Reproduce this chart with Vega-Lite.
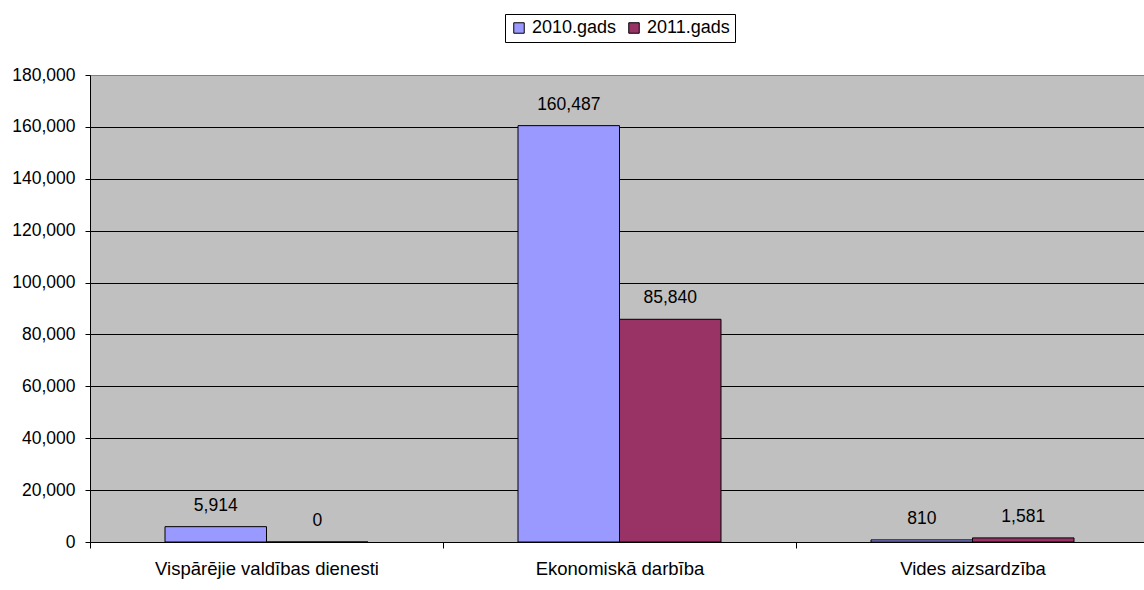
{
  "$schema": "https://vega.github.io/schema/vega-lite/v6.json",
  "autosize": {"type": "none"},
  "padding": {"left": 90, "top": 75, "right": 0, "bottom": 48},
  "width": 1054,
  "height": 467,
  "background": "white",
  "config": {
    "font": "Liberation Sans",
    "view": {"fill": "#C0C0C0", "stroke": "#808080", "strokeWidth": 1}
  },
  "data": {
    "values": [
      {"category": "Vispārējie valdības dienesti", "series": "2010.gads", "value": 5914},
      {"category": "Vispārējie valdības dienesti", "series": "2011.gads", "value": 0},
      {"category": "Ekonomiskā darbība", "series": "2010.gads", "value": 160487},
      {"category": "Ekonomiskā darbība", "series": "2011.gads", "value": 85840},
      {"category": "Vides aizsardzība", "series": "2010.gads", "value": 810},
      {"category": "Vides aizsardzība", "series": "2011.gads", "value": 1581}
    ]
  },
  "encoding": {
    "x": {
      "field": "category",
      "type": "nominal",
      "sort": null,
      "scale": {"range": [0, 1059], "paddingInner": 0.425, "paddingOuter": 0.2125},
      "axis": {
        "title": null,
        "labelAngle": 0,
        "labelFontSize": 18.5,
        "labelLimit": 0,
        "labelColor": "black",
        "labelPadding": 11,
        "labelOffset": 176.5,
        "domainColor": "black",
        "ticks": true,
        "tickColor": "black",
        "tickSize": 6,
        "tickWidth": 1,
        "tickOffset": -176.5,
        "grid": false
      }
    },
    "xOffset": {"field": "series", "type": "nominal", "scale": {"paddingInner": 0, "paddingOuter": 0}},
    "y": {
      "field": "value",
      "type": "quantitative",
      "scale": {"domain": [0, 180000], "nice": false},
      "axis": {
        "title": null,
        "values": [0, 20000, 40000, 60000, 80000, 100000, 120000, 140000, 160000, 180000],
        "format": ",d",
        "labelFontSize": 17.5,
        "labelColor": "black",
        "labelPadding": 10,
        "domainColor": "black",
        "tickColor": "black",
        "tickSize": 5,
        "grid": true,
        "gridColor": {"condition": {"test": "datum.value === 180000", "value": "#808080"}, "value": "black"},
        "gridOpacity": 1
      }
    }
  },
  "layer": [
    {
      "mark": {"type": "bar", "stroke": "black", "strokeWidth": 1},
      "encoding": {
        "color": {
          "field": "series",
          "type": "nominal",
          "scale": {"domain": ["2010.gads", "2011.gads"], "range": ["#9999FF", "#993366"]},
          "legend": {
            "title": null,
            "orient": "none",
            "direction": "horizontal",
            "legendX": 415,
            "legendY": -61,
            "labelFontSize": 18,
            "labelColor": "black",
            "symbolType": "square",
            "symbolSize": 110,
            "symbolStrokeColor": "black",
            "symbolStrokeWidth": 1,
            "labelOffset": 4,
            "columnPadding": 8,
            "padding": 5,
            "strokeColor": "black",
            "fillColor": "white"
          }
        }
      }
    },
    {
      "mark": {"type": "text", "dy": -21, "baseline": "middle", "fontSize": 17.5, "color": "black"},
      "encoding": {
        "text": {"field": "value", "type": "quantitative", "format": ",d"}
      }
    }
  ]
}
